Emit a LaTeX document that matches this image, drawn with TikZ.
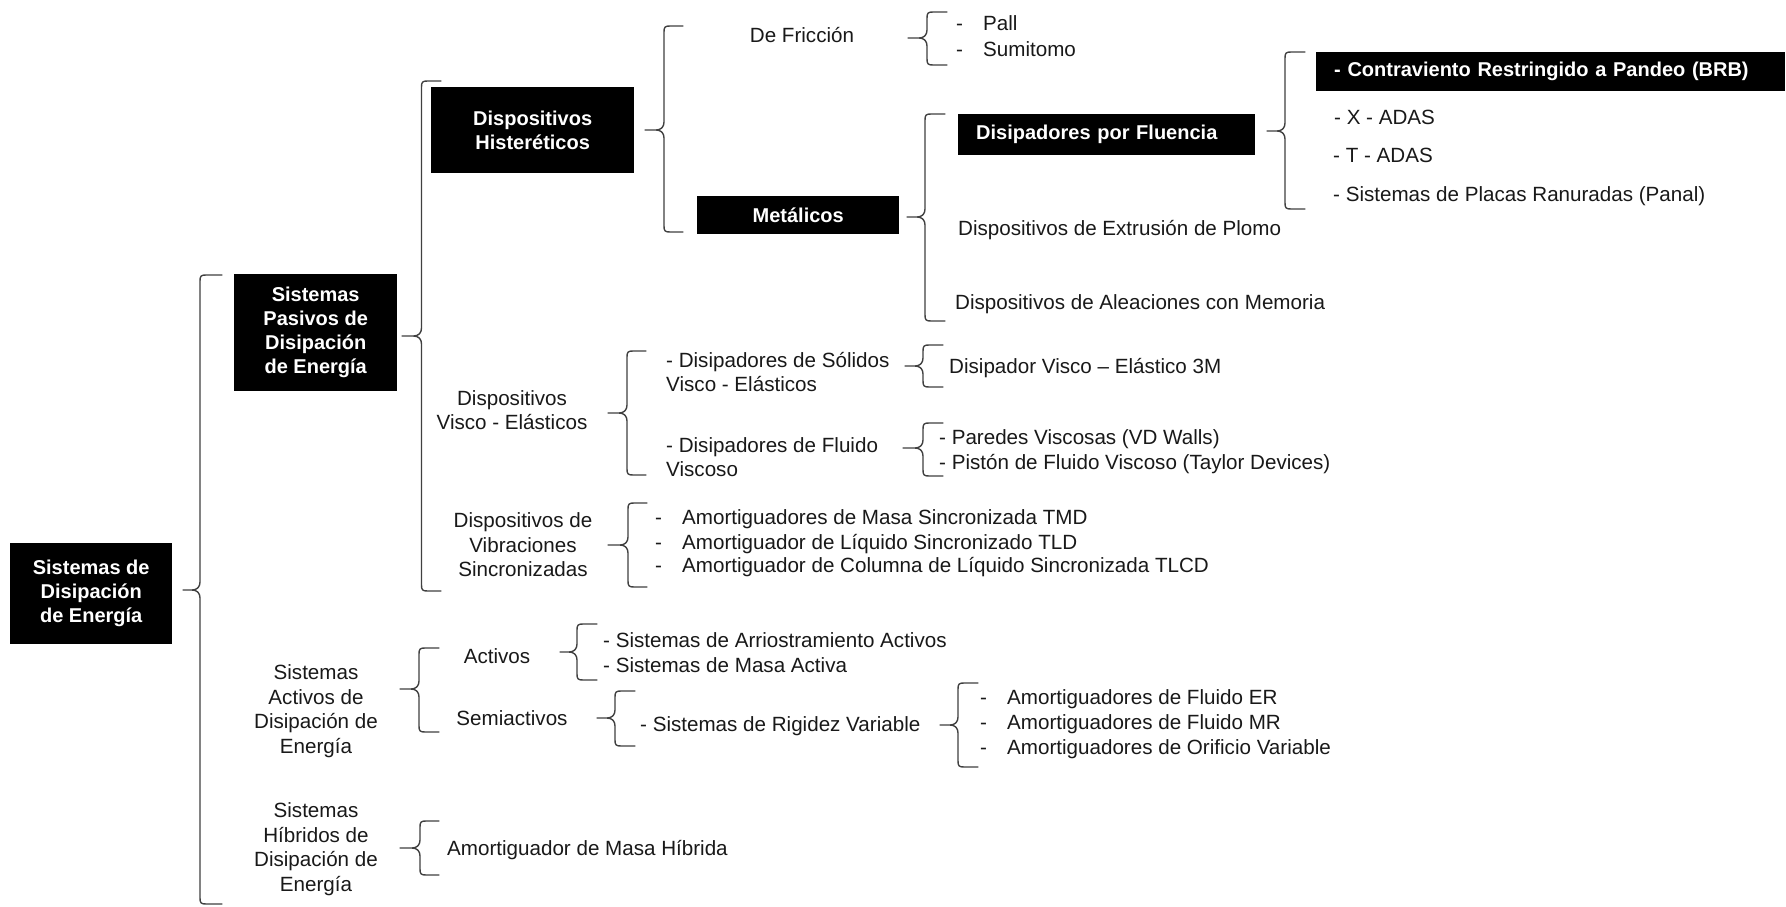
\documentclass[tikz,border=0pt]{standalone}
\usepackage{fontspec}
\setmainfont{Liberation Sans}
\tikzset{
  blk/.style={fill=black, text=white, font=\bfseries\fontsize{20}{24}\selectfont, align=center, inner sep=0pt},
  txt/.style={text=black!90, font=\fontsize{20.6}{24.5}\selectfont, inner sep=0pt},
  brace/.style={draw=black!75, line width=1.4pt, line join=round, line cap=round},
}
\newcommand\brc[6]{\draw[brace] (#6,#2) -- ({#1+6},#2) .. controls ({#1+1},#2) and (#1,{#2+1}) .. (#1,{#2+6}) -- (#1,{#5-8}) .. controls (#1,{#5-3}) and ({#1-3},#5) .. ({#1-8},#5) -- (#4,#5) -- ({#1-8},#5) .. controls ({#1-3},#5) and (#1,{#5+3}) .. (#1,{#5+8}) -- (#1,{#3-6}) .. controls (#1,{#3-1}) and ({#1+1},#3) .. ({#1+6},#3) -- (#6,#3);}
\newcommand\dashitem[1]{\makebox[27pt][l]{-}#1}
\begin{document}
\begin{tikzpicture}[x=1pt,y=-1pt]
\fill[white] (0,0) rectangle (1786,907);
\useasboundingbox (0,0) rectangle (1786,907);

% level 0 and 1
\node[blk, anchor=north west, minimum width=162pt, minimum height=101pt] (root) at (10,543) {Sistemas de\\Disipación\\de Energía};
\node[blk, anchor=north west, minimum width=163pt, minimum height=117pt] (pasivos) at (234,274) {Sistemas\\Pasivos de\\Disipación\\de Energía};
\node[txt, align=center] (activosys) at (316,711) {Sistemas\\Activos de\\Disipación de\\Energía};
\node[txt, align=center] (hibridos) at (316,849) {Sistemas\\Híbridos de\\Disipación de\\Energía};

% pasivos children
\node[blk, anchor=north west, minimum width=203pt, minimum height=86pt] (histe) at (431,87) {Dispositivos\\Histeréticos};
\node[txt, align=center] (visco) at (512,410) {Dispositivos\\Visco - Elásticos};
\node[txt, align=center] (vibra) at (523,545) {Dispositivos de\\Vibraciones\\Sincronizadas};

% histereticos children
\node[txt, anchor=base] (friccion) at (802,43) {De Fricción};
\node[blk, anchor=north west, minimum width=202pt, minimum height=38pt] (metal) at (697,196) {Metálicos};

% friccion children
\node[txt, anchor=base west] (pall) at (956,31) {\dashitem{Pall}};
\node[txt, anchor=base west] (sumitomo) at (956,57) {\dashitem{Sumitomo}};

% metalicos children
\node[blk, anchor=north west, text width=261pt, align=left, inner xsep=18pt, minimum height=41pt] (fluencia) at (958,114) {Disipadores por Fluencia};
\node[txt, anchor=base west] (extrusion) at (958,235) {Dispositivos de Extrusión de Plomo};
\node[txt, anchor=base west] (aleaciones) at (955,309) {Dispositivos de Aleaciones con Memoria};

% fluencia children
\node[blk, anchor=north west, text width=433pt, align=left, inner xsep=18pt, minimum height=39pt] (brb) at (1316,52) {- Contraviento Restringido a Pandeo (BRB)};
\node[txt, anchor=base west] (xadas) at (1334,124) {- X - ADAS};
\node[txt, anchor=base west] (tadas) at (1333,162) {- T - ADAS};
\node[txt, anchor=base west] (placas) at (1333,201) {- Sistemas de Placas Ranuradas (Panal)};

% visco-elasticos children
\node[txt, align=left, anchor=west] (solidos) at (666,372) {- Disipadores de Sólidos\\Visco - Elásticos};
\node[txt, align=left, anchor=west] (fluido) at (666,457) {- Disipadores de Fluido\\Viscoso};
\node[txt, anchor=base west] (tresm) at (949,373) {Disipador Visco – Elástico 3M};
\node[txt, anchor=base west] (paredes) at (939,444) {- Paredes Viscosas (VD Walls)};
\node[txt, anchor=base west] (piston) at (939,469) {- Pistón de Fluido Viscoso (Taylor Devices)};

% vibraciones children
\node[txt, anchor=base west] (tmd) at (655,524) {\dashitem{Amortiguadores de Masa Sincronizada TMD}};
\node[txt, anchor=base west] (tld) at (655,549) {\dashitem{Amortiguador de Líquido Sincronizado TLD}};
\node[txt, anchor=base west] (tlcd) at (655,572) {\dashitem{Amortiguador de Columna de Líquido Sincronizada TLCD}};

% activos
\node[txt, anchor=base] (activos) at (497,663) {Activos};
\node[txt, anchor=base] (semiact) at (512,725) {Semiactivos};
\node[txt, anchor=base west] (arriost) at (603,647) {- Sistemas de Arriostramiento Activos};
\node[txt, anchor=base west] (masaact) at (603,672) {- Sistemas de Masa Activa};
\node[txt, anchor=base west] (rigidez) at (640,731) {- Sistemas de Rigidez Variable};
\node[txt, anchor=base west] (er) at (980,704) {\dashitem{Amortiguadores de Fluido ER}};
\node[txt, anchor=base west] (mr) at (980,729) {\dashitem{Amortiguadores de Fluido MR}};
\node[txt, anchor=base west] (orif) at (980,754) {\dashitem{Amortiguadores de Orificio Variable}};

% hibridos
\node[txt, anchor=base west] (amhib) at (447,855) {Amortiguador de Masa Híbrida};

% braces: xv, top, bottom, xtip, ytip, xhook
\brc{200}{275}{904}{183}{590}{222}
\brc{421.5}{81}{591}{402}{336}{441}
\brc{664}{26}{232}{645}{130}{683}
\brc{927}{12}{65}{908}{38}{947}
\brc{925}{114}{321}{907}{217}{945}
\brc{1285}{52}{209}{1267}{131}{1305}
\brc{627}{351}{475}{608}{413}{646}
\brc{923}{345}{387}{905}{366}{943}
\brc{923}{423}{476}{903}{448}{943}
\brc{628}{503}{587}{608}{545}{647}
\brc{419}{648}{732}{400}{689}{439}
\brc{577}{624}{680}{560}{652}{597}
\brc{615}{691}{746}{597}{718}{635}
\brc{958}{683}{767}{940}{725}{978}
\brc{420}{821}{875}{400}{848}{439}
\end{tikzpicture}
\end{document}
